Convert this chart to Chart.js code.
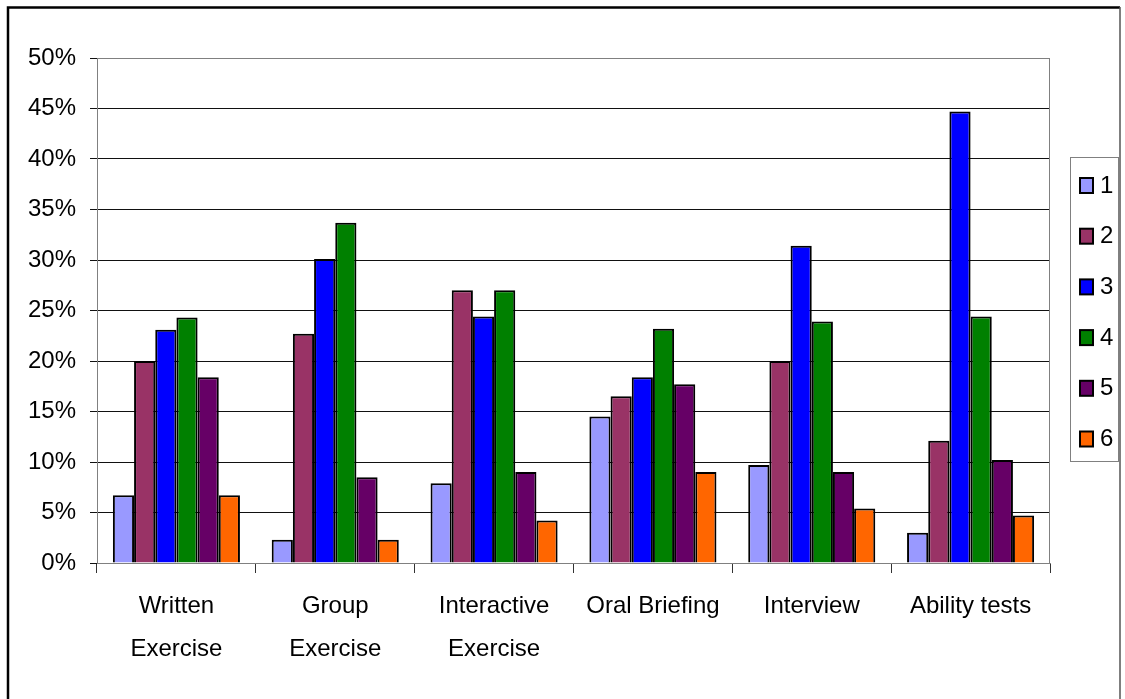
<!DOCTYPE html>
<html>
<head>
<meta charset="utf-8">
<script src="https://cdn.jsdelivr.net/npm/chart.js@4"></script>
<style>
  html, body { margin: 0; padding: 0; background: #fff; }
  #wrap { position: relative; width: 1125px; height: 699px; }
</style>
</head>
<body>
<div id="wrap"><canvas id="chart" width="1125" height="699"></canvas></div>
<script>
const categories = [["Written", "Exercise"], ["Group", "Exercise"], ["Interactive", "Exercise"], "Oral Briefing", "Interview", "Ability tests"]
const seriesNames = ["1", "2", "3", "4", "5", "6"]
const series1 = [6.7, 2.3, 7.9, 14.5, 9.7, 3.0]
const series2 = [20.0, 22.7, 27.0, 16.5, 20.0, 12.1]
const series3 = [23.1, 30.1, 24.4, 18.4, 31.4, 44.7]
const series4 = [24.3, 33.7, 27.0, 23.2, 23.9, 24.4]
const series5 = [18.4, 8.5, 9.0, 17.7, 9.0, 10.2]
const series6 = [6.7, 2.3, 4.2, 9.0, 5.4, 4.7]
const yMax = 50
const yStep = 5

const colors = ["#9999FF", "#993366", "#0000FF", "#008000", "#660066", "#FF6600"]
const values = [series1, series2, series3, series4, series5, series6]
const FONT = "'Liberation Sans', Arial, sans-serif"

// frame round the whole picture, border round the plot, boxed legend
const decor = {
  id: "decor",
  afterDraw(chart) {
    const { ctx, chartArea: a } = chart
    ctx.save()
    ctx.strokeStyle = "#808080"
    ctx.lineWidth = 1
    ctx.beginPath()
    ctx.moveTo(a.left + 0.5, a.bottom); ctx.lineTo(a.left + 0.5, a.top + 0.5)
    ctx.lineTo(a.right - 0.5, a.top + 0.5); ctx.lineTo(a.right - 0.5, a.bottom)
    ctx.stroke()

    // legend
    const lx = 1070, ly = 157, lw = 48, lh = 304
    ctx.strokeStyle = "#808080"
    ctx.strokeRect(lx + 0.5, ly + 0.5, lw, lh)
    ctx.font = "24px " + FONT
    ctx.textBaseline = "middle"
    chart.data.datasets.forEach((ds, i) => {
      const cy = 185 + i * 50.7
      ctx.fillStyle = ds.backgroundColor
      ctx.fillRect(1080, cy - 7, 13, 15)
      ctx.strokeStyle = "#000"
      ctx.lineWidth = 2
      ctx.strokeRect(1080, cy - 7, 13, 15)
      ctx.fillStyle = "#000"
      ctx.fillText(ds.label, 1100, cy + 1)
    })

    // outer frame
    ctx.strokeStyle = "#000"
    ctx.lineWidth = 2.5
    ctx.beginPath()
    ctx.moveTo(8, 720); ctx.lineTo(8, 7.5); ctx.lineTo(1120, 7.5)
    ctx.stroke()
    ctx.strokeStyle = "#555"
    ctx.lineWidth = 1.5
    ctx.beginPath()
    ctx.moveTo(1120, 7); ctx.lineTo(1120, 720)
    ctx.stroke()
    ctx.restore()
  }
}

new Chart(document.getElementById("chart"), {
  type: "bar",
  data: {
    labels: categories,
    datasets: seriesNames.map((name, i) => ({
      label: name,
      data: values[i],
      backgroundColor: colors[i],
      borderColor: "#000",
      borderWidth: 2,
      categoryPercentage: 0.8,
      barPercentage: 1.0
    }))
  },
  options: {
    responsive: false,
    animation: false,
    layout: { padding: { left: 0, top: 58, right: 75, bottom: 0 } },
    plugins: { legend: { display: false }, tooltip: { enabled: false } },
    scales: {
      x: {
        afterFit: s => { s.height = 136 },
        border: { color: "#808080", width: 1 },
        grid: { offset: true, drawOnChartArea: false, tickLength: 10, tickColor: "#333" },
        ticks: { color: "#000", font: { family: FONT, size: 24, lineHeight: 1.8 }, padding: 12, maxRotation: 0, autoSkip: false }
      },
      y: {
        min: 0,
        max: yMax,
        afterFit: s => { s.width = 97 },
        border: { color: "#808080", width: 1 },
        grid: {
          color: ctx => ctx.tick && ctx.tick.value === yMax ? "#808080" : "#111",
          tickColor: "#111",
          tickLength: 7
        },
        ticks: {
          stepSize: yStep,
          color: "#000",
          padding: 14,
          font: { family: FONT, size: 24 },
          callback: v => v + "%"
        }
      }
    }
  },
  plugins: [decor]
})
</script>
</body>
</html>
